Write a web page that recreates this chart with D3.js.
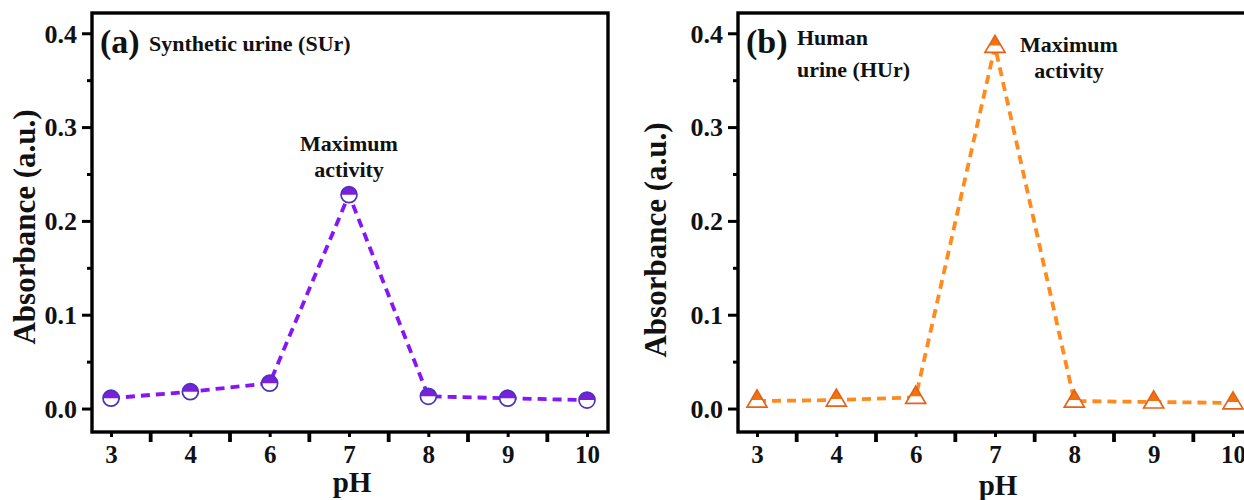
<!DOCTYPE html>
<html>
<head>
<meta charset="utf-8">
<script src="https://cdn.jsdelivr.net/npm/d3@7"></script>
<style>
  html, body { margin: 0; padding: 0; background: #ffffff; overflow: hidden; }
  svg { display: block; }
  text { font-family: "Liberation Serif", "Times New Roman", serif; font-weight: bold; fill: #111; }
</style>
</head>
<body>
<svg id="chart" width="1244" height="500"></svg>
<script>
// ---------------- data ----------------
const categories = ["3", "4", "6", "7", "8", "9", "10"];
const surValues = [0.011, 0.018, 0.027, 0.228, 0.013, 0.011, 0.009];   // (a) synthetic urine
const hurValues = [0.008, 0.009, 0.012, 0.386, 0.008, 0.007, 0.006];   // (b) human urine
const yTicks = [0.0, 0.1, 0.2, 0.3, 0.4];
const yMinorTicks = [0.05, 0.15, 0.25, 0.35];
const panelLabels = ["(a)", "(b)"];
const sampleLabelsA = ["Synthetic urine (SUr)"];
const sampleLabelsB = ["Human", "urine (HUr)"];
const annotation = ["Maximum", "activity"];
const xTitle = "pH";
const yTitle = "Absorbance (a.u.)";

// ---------------- layout ----------------
const W = 516, H = 419;
const svg = d3.select("#chart");

const x = d3.scalePoint().domain(categories).range([19, 495]);
const y = d3.scaleLinear().domain([-0.025, 0.4216]).range([H, 0]);
const step = x.step();
const betweenTicks = categories.slice(0, -1).map(c => x(c) + step / 2);

function drawPanel(opt) {
  const g = svg.append("g").attr("transform", `translate(${opt.left},${opt.top})`);

  // line
  const line = d3.line().x((d, i) => x(categories[i])).y(d => y(d));
  g.append("path")
    .datum(opt.values)
    .attr("d", line)
    .attr("fill", "none")
    .attr("stroke", opt.lineColor)
    .attr("stroke-width", 3.8)
    .attr("stroke-dasharray", "9,6");

  // markers
  const pts = g.selectAll("g.pt").data(opt.values).join("g")
    .attr("class", "pt")
    .attr("transform", (d, i) => `translate(${x(categories[i])},${y(d)})`);

  if (opt.marker === "circle") {
    const r = 8;
    pts.append("circle").attr("r", r).attr("fill", "#ffffff");
    pts.append("path")
      .attr("d", `M${-r},0 A${r},${r} 0 0 1 ${r},0 Z`)
      .attr("fill", opt.fillColor);
    pts.append("circle").attr("r", r).attr("fill", "none")
      .attr("stroke", opt.strokeColor).attr("stroke-width", 1.7);
  } else {
    const ta = -11, tb = 6, hw = 10, cut = -1;
    const cw = hw * (cut - ta) / (tb - ta);
    pts.append("path")
      .attr("d", `M0,${ta} L${hw},${tb} L${-hw},${tb} Z`)
      .attr("fill", "#ffffff");
    pts.append("path")
      .attr("d", `M0,${ta} L${cw},${cut} L${-cw},${cut} Z`)
      .attr("fill", opt.fillColor);
    pts.append("path")
      .attr("d", `M0,${ta} L${hw},${tb} L${-hw},${tb} Z`)
      .attr("fill", "none")
      .attr("stroke", opt.strokeColor).attr("stroke-width", 1.7)
      .attr("stroke-linejoin", "miter");
  }

  // frame
  g.append("rect").attr("x", 0).attr("y", 0).attr("width", W).attr("height", H)
    .attr("fill", "none").attr("stroke", "#000").attr("stroke-width", 3.4);

  // y axis
  const yAxis = g.append("g").call(
    d3.axisLeft(y).tickValues(yTicks).tickFormat(d3.format(".1f")).tickSize(10).tickPadding(5)
  );
  yAxis.select(".domain").remove();
  yAxis.selectAll(".tick line").attr("stroke", "#000").attr("stroke-width", 3);
  yAxis.selectAll(".tick text").attr("font-size", 26).attr("dy", "0.34em")
    .style("font-family", "'Liberation Serif', serif").style("font-weight", "bold").attr("fill", "#111");

  const yMinor = g.append("g").call(d3.axisLeft(y).tickValues(yMinorTicks).tickSize(5).tickFormat(""));
  yMinor.select(".domain").remove();
  yMinor.selectAll(".tick line").attr("stroke", "#000").attr("stroke-width", 3);

  // x axis (labels with short ticks)
  const xAxis = g.append("g").attr("transform", `translate(0,${H})`).call(
    d3.axisBottom(x).tickSize(5).tickPadding(8)
  );
  xAxis.select(".domain").remove();
  xAxis.selectAll(".tick line").attr("stroke", "#000").attr("stroke-width", 3);
  xAxis.selectAll(".tick text").attr("font-size", 25)
    .style("font-family", "'Liberation Serif', serif").style("font-weight", "bold").attr("fill", "#111");

  // between-category major ticks
  g.append("g").selectAll("line").data(betweenTicks).join("line")
    .attr("x1", d => d).attr("x2", d => d)
    .attr("y1", H).attr("y2", H + 10)
    .attr("stroke", "#000").attr("stroke-width", 3.8);

  // axis titles
  g.append("text")
    .attr("x", x("7") + 3).attr("y", H + opt.xTitleDy)
    .attr("text-anchor", "middle").attr("font-size", 29)
    .text(xTitle);
  g.append("text")
    .attr("transform", `translate(${opt.yTitleX},${opt.yTitleY}) rotate(-90)`)
    .attr("text-anchor", "middle").attr("font-size", 31)
    .text(yTitle);

  // panel label
  g.append("text").attr("x", 8).attr("y", 40).attr("font-size", 34).text(opt.panelLabel);
  opt.sampleLabels.forEach((t, i) => {
    g.append("text").attr("x", opt.sampleX).attr("y", opt.sampleY + i * 32)
      .attr("font-size", 22).text(t);
  });

  // annotation
  annotation.forEach((t, i) => {
    g.append("text")
      .attr("x", opt.annX).attr("y", opt.annY + i * 26)
      .attr("text-anchor", "middle").attr("font-size", 22)
      .text(t);
  });
  return g;
}

drawPanel({
  left: 92, top: 13, values: surValues, marker: "circle",
  lineColor: "#8516f5", fillColor: "#7a1fdc", strokeColor: "#4a34b8",
  panelLabel: panelLabels[0], sampleLabels: sampleLabelsA, sampleX: 57, sampleY: 38,
  annX: x("7"), annY: 138,
  xTitleDy: 60, yTitleX: -57, yTitleY: 214
});

drawPanel({
  left: 738, top: 13, values: hurValues, marker: "triangle",
  lineColor: "#ff8a1e", fillColor: "#f2720c", strokeColor: "#e5621a",
  panelLabel: panelLabels[1], sampleLabels: sampleLabelsB, sampleX: 59, sampleY: 32,
  annX: x("7") + 74, annY: 39,
  xTitleDy: 63, yTitleX: -72, yTitleY: 227
});
</script>
</body>
</html>
